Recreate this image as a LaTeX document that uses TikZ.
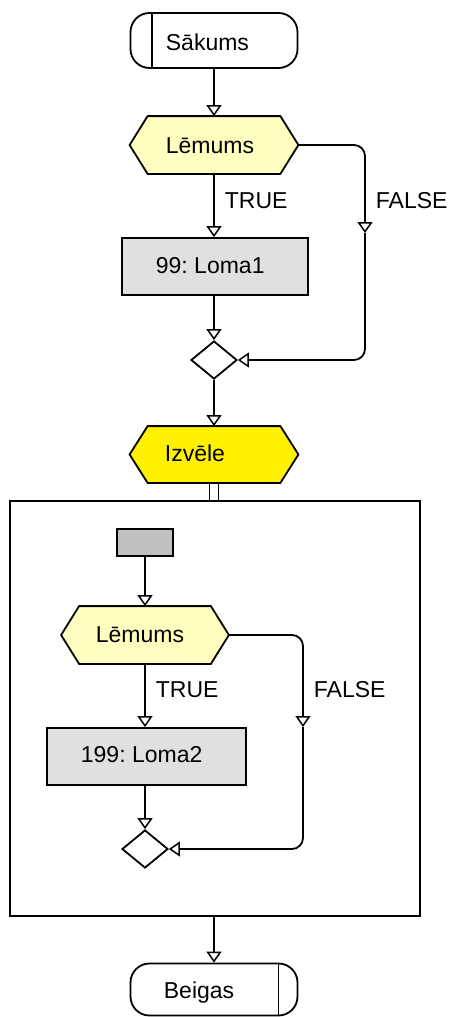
\documentclass[tikz,border=0pt]{standalone}
\usepackage{fontspec}
\setmainfont{Liberation Sans}
\usetikzlibrary{arrows.meta,shapes.geometric,calc}
\definecolor{paleyel}{RGB}{255,255,192}
\definecolor{boxgray}{RGB}{224,224,224}
\definecolor{startgray}{RGB}{192,192,192}
\newcommand\drawhex[2]{\filldraw[fill=#2] (#1.west) -- ($(#1.north west)+(18,0)$) -- ($(#1.north east)+(-18,0)$) -- (#1.east) -- ($(#1.south east)+(-18,0)$) -- ($(#1.south west)+(18,0)$) -- cycle;}
\frenchspacing
\begin{document}
\begin{tikzpicture}[x=1pt,y=1pt,line width=1.8pt,
  every node/.style={font=\fontsize{23}{27}\selectfont},
  arr/.style={-{Triangle[open,length=11pt,width=15pt,line width=1.5pt]}},
  term/.style={draw,rounded corners=19pt,minimum width=167pt,minimum height=55pt,inner sep=0},
  hexbox/.style={minimum width=167pt,minimum height=56pt,inner sep=0},
  procbox/.style={draw,fill=boxgray,inner sep=0,minimum height=57pt},
  merge/.style={draw,diamond,fill=white,inner sep=0,minimum width=46pt,minimum height=38pt},
  txt/.style={anchor=base west,inner sep=0},
  falsepath/.style={rounded corners=11pt}]
\useasboundingbox (0,0) rectangle (455,-1017);
% container
\node[draw,minimum width=410pt,minimum height=415pt,inner sep=0] (cont) at (215,-708.5) {};
% start
\node[term] (start) at (214,-40.5) {};
\draw ($(start.north west)+(22,0)$) -- ($(start.south west)+(22,0)$);
\node[txt] (starttxt) at (165,-50) {Sākums};
% decision 1
\node[hexbox] (lem1) at (214,-145) {};
\drawhex{lem1}{paleyel}
\node[txt] (lem1txt) at (165,-153) {Lēmums};
% process 1
\node[procbox,minimum width=186pt] (loma1) at (215,-266.5) {};
\node[txt] (loma1txt) at (155,-273) {99: Loma1};
% merge 1
\node[merge] (m1) at (214,-360) {};
% choice
\node[hexbox,minimum height=55pt] (izv) at (214,-454.5) {};
\drawhex{izv}{yellow}
\node[txt] (izvtxt) at (164,-461) {Izvēle};
% inner start
\node[draw,fill=startgray,inner sep=0,minimum width=56pt,minimum height=27pt] (gs) at (145,-542.5) {};
% decision 2
\node[hexbox,minimum width=166pt] (lem2) at (145,-635) {};
\drawhex{lem2}{paleyel}
\node[txt] (lem2txt) at (95,-642) {Lēmums};
% process 2
\node[procbox,minimum width=199pt] (loma2) at (146.5,-756.5) {};
\node[txt] (loma2txt) at (80,-762) {199: Loma2};
% merge 2
\node[merge] (m2) at (145,-849) {};
% end
\node[term,minimum height=52pt] (beig) at (214,-989.5) {};
\draw ($(beig.north east)+(-20,0)$) -- ($(beig.south east)+(-20,0)$);
\node[txt] (beigtxt) at (163,-998) {Beigas};
% connectors
\draw[arr] (start.south) -- (lem1.north);
\draw[arr] (lem1.south) -- (lem1.south |- loma1.north);
\node[txt] (t1) at (224,-208) {TRUE};
\coordinate (f1) at (365,-233);
\draw[arr,falsepath] (lem1.east) -| (f1);
\draw[arr,falsepath] (f1) |- (m1.east);
\node[txt] (fl1) at (375,-208) {FALSE};
\draw[arr] (loma1.south -| m1.north) -- (m1.north);
\draw[arr] (m1.south) -- (izv.north);
\coordinate (d1) at ($(izv.south)+(-4.5,0)$);
\coordinate (d2) at ($(izv.south)+(4.5,0)$);
\draw (d1) -- (d1 |- cont.north);
\draw (d2) -- (d2 |- cont.north);
\draw[arr] (gs.south) -- (lem2.north);
\draw[arr] (lem2.south) -- (lem2.south |- loma2.north);
\node[txt] (t2) at (155,-697) {TRUE};
\coordinate (f2) at (303,-727);
\draw[arr,falsepath] (lem2.east) -| (f2);
\draw[arr,falsepath] (f2) |- (m2.east);
\node[txt] (fl2) at (313,-697) {FALSE};
\draw[arr] (loma2.south -| m2.north) -- (m2.north);
\draw[arr] (cont.south -| beig.north) -- (beig.north);
\end{tikzpicture}
\end{document}
